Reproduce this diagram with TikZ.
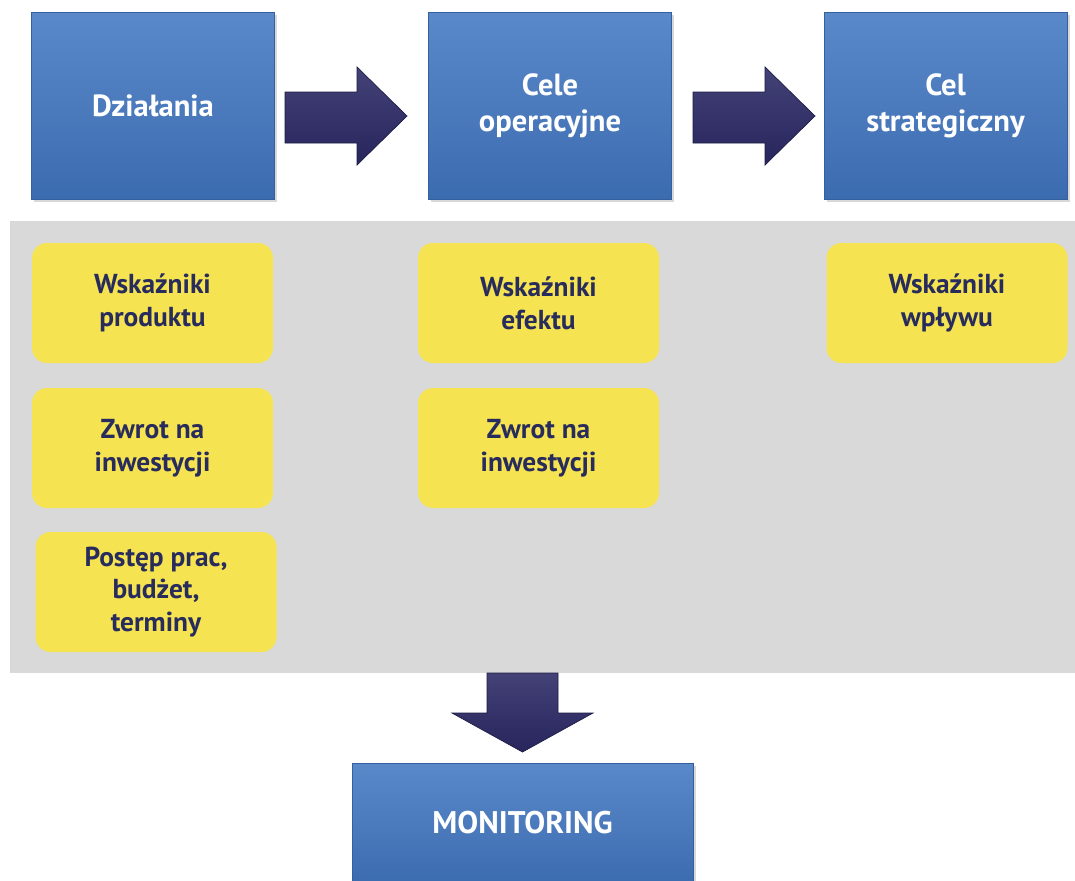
\documentclass[tikz,border=0pt]{standalone}
\usepackage{fontspec}
\setmainfont{PT Sans}
\usetikzlibrary{shadows}
\definecolor{boxtop}{RGB}{90,137,202}
\definecolor{boxbot}{RGB}{60,108,176}
\definecolor{boxline}{RGB}{52,96,160}
\definecolor{arrowc}{RGB}{42,40,100}
\definecolor{ylwbox}{RGB}{245,227,82}
\definecolor{ylwtext}{RGB}{40,44,92}
\definecolor{panelgray}{RGB}{217,217,217}

\begin{document}
\begin{tikzpicture}[x=0.02cm, y=-0.02cm,
    goalbox/.style={top color=boxtop, bottom color=boxbot, draw=boxline,
      text=white, align=center, minimum width=243*0.02cm, minimum height=187*0.02cm,
      font=\fontsize{17.4}{20.4}\selectfont\bfseries,
      drop shadow={opacity=0.3, shadow xshift=0.05cm, shadow yshift=-0.06cm}},
    indbox/.style={fill=ylwbox, rounded corners=0.3cm, text=ylwtext, align=center,
      minimum width=241*0.02cm, minimum height=120*0.02cm,
      font=\fontsize{15.6}{18.7}\selectfont\bfseries},
    blockarrow/.style={top color=arrowc!88!white, bottom color=arrowc!92!black, draw=arrowc!70!black}]
	\clip (0,0) rectangle (1075,880);
	\fill[white] (0,0) rectangle (1075,880);

	% panel with the indicators
	\fill[panelgray] (10,221) rectangle (1075,673);

	\node[goalbox] (dzialania) at (153,105.5) {Działania};
	\node[goalbox] (celeop) at (550,105.5) {Cele\\operacyjne};
	\node[goalbox] (celstr) at (945.5,105.5) {Cel\\strategiczny};

	\foreach \ax in {285,693} {
		\draw[blockarrow] (\ax,92) -- (\ax+72,92) -- (\ax+72,67) -- (\ax+122,116)
			-- (\ax+72,165) -- (\ax+72,143) -- (\ax,143) -- cycle;
	}

	\node[indbox] (wskprod) at (152.5,303) {Wskaźniki\\produktu};
	\node[indbox] (zwrot1) at (152.5,448) {Zwrot na\\inwestycji};
	\node[indbox] (postep) at (156,592) {Postęp prac,\\budżet,\\terminy};
	\node[indbox] (wskef) at (538.5,303) {Wskaźniki\\efektu};
	\node[indbox] (zwrot2) at (538.5,448) {Zwrot na\\inwestycji};
	\node[indbox] (wskwpl) at (947,303) {Wskaźniki\\wpływu};

	\draw[blockarrow] (487,673) -- (558,673) -- (558,713) -- (593,713) -- (522.5,752)
		-- (452,713) -- (487,713) -- cycle;

	\node[goalbox, minimum width=341*0.02cm, minimum height=120*0.02cm,
		font=\fontsize{17.8}{20}\selectfont\bfseries] (monitoring) at (522.5,823) {MONITORING};
\end{tikzpicture}
\end{document}
